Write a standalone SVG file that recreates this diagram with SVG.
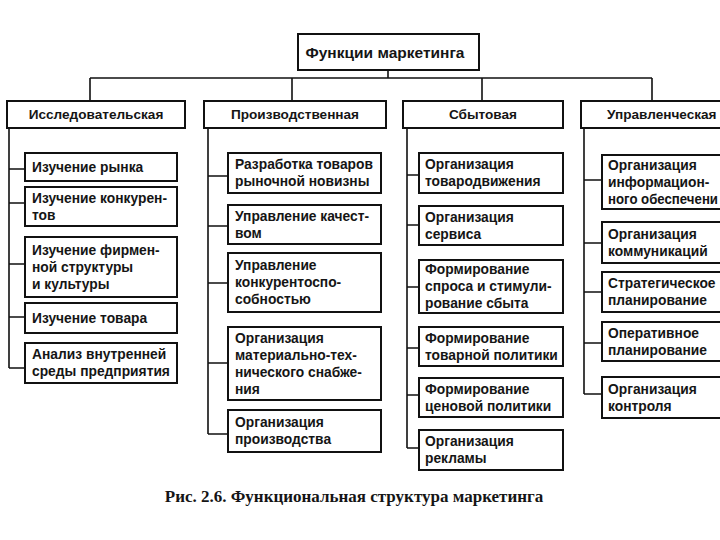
<svg xmlns="http://www.w3.org/2000/svg" width="720" height="540" viewBox="0 0 720 540">
<style>
.box{fill:#fff;stroke:#111;stroke-width:2}
.ln{stroke:#111;stroke-width:1.6;fill:none}
text{font-family:"Liberation Sans",Arial,sans-serif;font-size:13.8px;font-weight:bold;fill:#151515}
.hd{text-anchor:middle;font-size:13.6px}
.ttl{font-size:15.5px;text-anchor:middle}
.cap{font-family:"Liberation Serif","Times New Roman",serif;font-size:17px;text-anchor:middle}
</style>
<rect width="720" height="540" fill="#fff"/>
<g id="connectors">
<path class="ln" d="M388 70V78M90 78H652M90 78V101M292 78V101M482 78V101M652 78V101"/>
<path class="ln" d="M9 128V368M9 169H25M9 203H25M9 264H25M9 317H25M9 368H25"/>
<path class="ln" d="M208 128V434M208 176H228M208 226H228M208 283H228M208 363H228M208 434H228"/>
<path class="ln" d="M407 128V448M407 175H419M407 225H419M407 287H419M407 348H419M407 395H419M407 448H419"/>
<path class="ln" d="M584 128V394M584 180H602M584 243H602M584 292H602M584 343H602M584 394H602"/>
</g>
<g id="title"><rect class="box" x="298" y="34" width="181" height="36"/><text class="ttl" x="385" y="57.5">Функции маркетинга</text></g>
<g id="h1"><rect class="box" x="7" y="101" width="178" height="27"/><text class="hd" x="96" y="119">Исследовательская</text></g>
<g id="h2"><rect class="box" x="204" y="101" width="182" height="27"/><text class="hd" x="295" y="119">Производственная</text></g>
<g id="h3"><rect class="box" x="403" y="101" width="160" height="27"/><text class="hd" x="483" y="119">Сбытовая</text></g>
<g id="h4"><rect class="box" x="581" y="101" width="150" height="27"/><text x="607" y="119" style="font-size:13.6px">Управленческая</text></g>

<g id="c1n1"><rect class="box" x="25" y="153" width="152" height="28"/><text x="32" y="172">Изучение рынка</text></g>
<g id="c1n2"><rect class="box" x="25" y="187" width="152" height="39"/><text x="32" y="203">Изучение конкурен-</text><text x="32" y="220">тов</text></g>
<g id="c1n3"><rect class="box" x="25" y="237" width="152" height="60"/><text x="32" y="254.5">Изучение фирмен-</text><text x="32" y="271.5">ной структуры</text><text x="32" y="288.5">и культуры</text></g>
<g id="c1n4"><rect class="box" x="25" y="303" width="152" height="30"/><text x="32" y="322.5">Изучение товара</text></g>
<g id="c1n5"><rect class="box" x="25" y="343" width="152" height="40"/><text x="32" y="359">Анализ внутренней</text><text x="32" y="376">среды предприятия</text></g>

<g id="c2n1"><rect class="box" x="228" y="153" width="153" height="40"/><text x="235" y="169">Разработка товаров</text><text x="235" y="186">рыночной новизны</text></g>
<g id="c2n2"><rect class="box" x="228" y="205" width="153" height="39"/><text x="235" y="220.5">Управление качест-</text><text x="235" y="237.5">вом</text></g>
<g id="c2n3"><rect class="box" x="228" y="253" width="153" height="59"/><text x="235" y="270">Управление</text><text x="235" y="287">конкурентоспо-</text><text x="235" y="304">собностью</text></g>
<g id="c2n4"><rect class="box" x="228" y="327" width="153" height="73"/><text x="235" y="342.5">Организация</text><text x="235" y="359.5">материально-тех-</text><text x="235" y="376.5">нического снабже-</text><text x="235" y="393.5">ния</text></g>
<g id="c2n5"><rect class="box" x="228" y="410" width="153" height="42"/><text x="235" y="427">Организация</text><text x="235" y="444">производства</text></g>

<g id="c3n1"><rect class="box" x="419" y="153" width="144" height="40"/><text x="425" y="169">Организация</text><text x="425" y="186">товародвижения</text></g>
<g id="c3n2"><rect class="box" x="419" y="206" width="144" height="39"/><text x="425" y="221.5">Организация</text><text x="425" y="238.5">сервиса</text></g>
<g id="c3n3"><rect class="box" x="419" y="260" width="144" height="53"/><text x="425" y="274">Формирование</text><text x="425" y="291">спроса и стимули-</text><text x="425" y="308">рование сбыта</text></g>
<g id="c3n4"><rect class="box" x="419" y="327" width="144" height="39"/><text x="425" y="342.5">Формирование</text><text x="425" y="359.5">товарной политики</text></g>
<g id="c3n5"><rect class="box" x="419" y="378" width="144" height="39"/><text x="425" y="393.5">Формирование</text><text x="425" y="410.5">ценовой политики</text></g>
<g id="c3n6"><rect class="box" x="419" y="430" width="144" height="40"/><text x="425" y="446">Организация</text><text x="425" y="463">рекламы</text></g>

<g id="c4n1"><rect class="box" x="602" y="155" width="130" height="54"/><text x="608" y="169.5">Организация</text><text x="608" y="186.5">информацион-</text><text x="608" y="203.5" textLength="110" lengthAdjust="spacingAndGlyphs">ного обеспечени</text></g>
<g id="c4n2"><rect class="box" x="602" y="222" width="130" height="41"/><text x="608" y="238.5">Организация</text><text x="608" y="255.5">коммуникаций</text></g>
<g id="c4n3"><rect class="box" x="602" y="272" width="130" height="40"/><text x="608" y="288">Стратегическое</text><text x="608" y="305">планирование</text></g>
<g id="c4n4"><rect class="box" x="602" y="322" width="130" height="39"/><text x="608" y="337.5">Оперативное</text><text x="608" y="354.5">планирование</text></g>
<g id="c4n5"><rect class="box" x="602" y="377" width="130" height="41"/><text x="608" y="393.5">Организация</text><text x="608" y="410.5">контроля</text></g>

<text class="cap" x="354" y="502">Рис. 2.6. Функциональная структура маркетинга</text>
</svg>
